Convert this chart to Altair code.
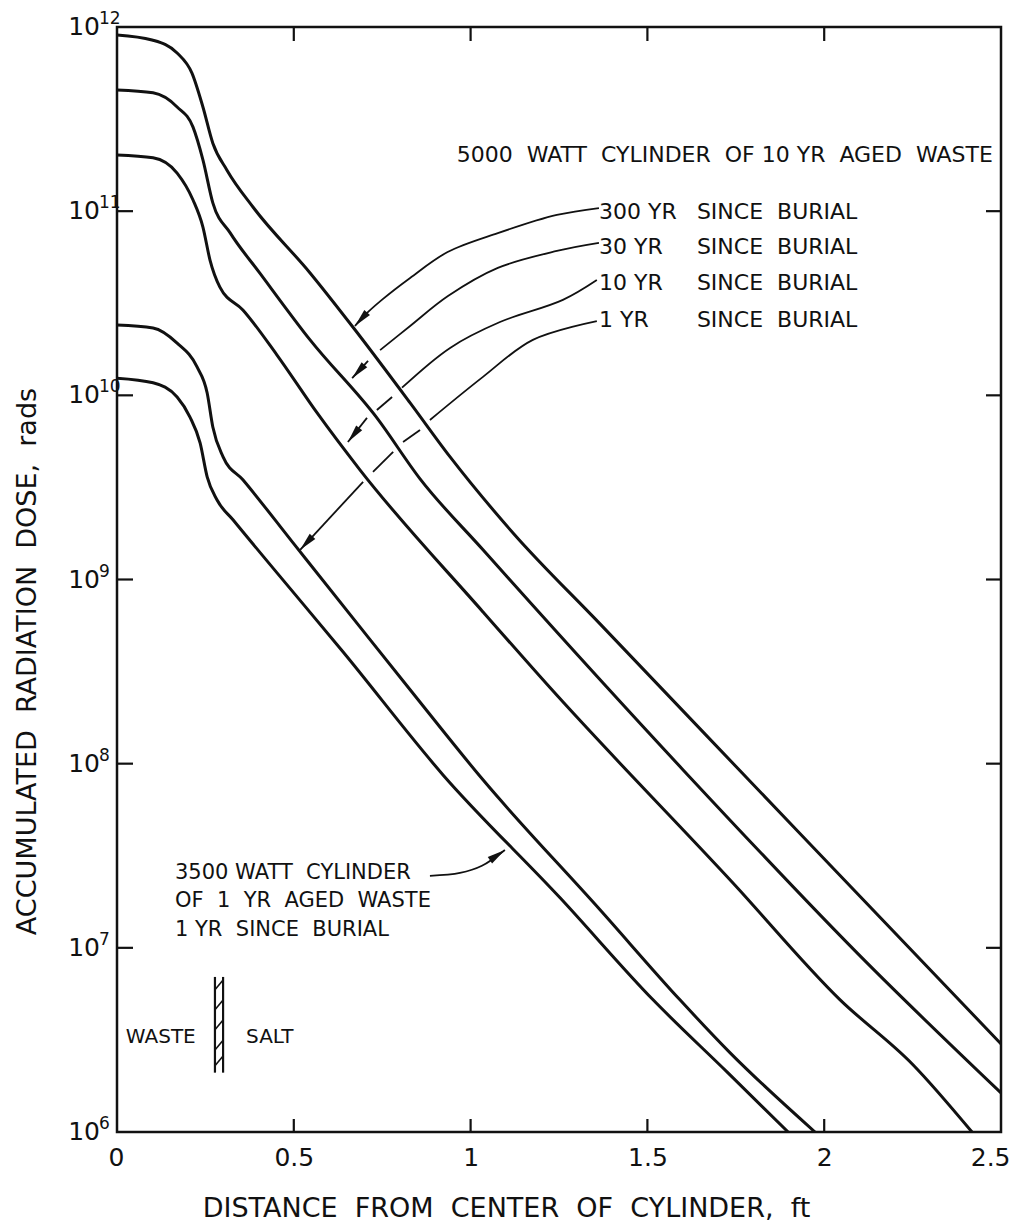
import math
import altair as alt
import pandas as pd

# ------------------------------------------------------------------ data
W, H = 884, 1105
X_DOMAIN = [0.0, 2.5]
Y_DOMAIN = [1e6, 1e12]

# 5000 W cylinder of 10 yr aged waste, 300 yr since burial
x_300yr = [0.0, 0.099, 0.170, 0.212, 0.243, 0.271, 0.311, 0.385, 0.546, 0.667,
           0.829, 0.942, 1.120, 1.366, 1.932, 2.5]
dose_300yr = [9.06e11, 8.50e11, 7.23e11, 5.62e11, 3.68e11, 2.34e11, 1.67e11, 1.05e11,
              4.62e10, 2.35e10, 9.10e9, 4.63e9, 1.79e9, 5.74e8, 4.16e7, 3.01e6]
# 30 yr since burial
x_30yr = [0.0, 0.102, 0.170, 0.215, 0.243, 0.271, 0.320, 0.404, 0.546, 0.735, 0.857,
          1.035, 1.601, 2.121, 2.5]
dose_30yr = [4.55e11, 4.39e11, 3.68e11, 2.86e11, 1.90e11, 1.11e11, 7.62e10, 4.61e10,
             2.00e10, 7.54e9, 3.52e9, 1.45e9, 9.25e7, 8.28e6, 1.63e6]
# 10 yr since burial
x_10yr = [0.0, 0.102, 0.170, 0.215, 0.243, 0.263, 0.291, 0.356, 0.452, 0.566, 0.687,
          1.035, 1.225, 1.742, 2.045, 2.251, 2.418]
dose_10yr = [2.02e11, 1.95e11, 1.61e11, 1.15e11, 8.20e10, 5.43e10, 3.87e10, 2.91e10,
             1.66e10, 8.02e9, 3.94e9, 6.67e8, 2.58e8, 2.25e7, 5.22e6, 2.32e6, 1.0e6]
# 1 yr since burial
x_1yr = [0.0, 0.102, 0.170, 0.226, 0.255, 0.271, 0.30, 0.356, 0.498, 0.687, 0.829,
         1.035, 1.366, 1.592, 1.734, 1.974]
dose_1yr = [2.41e10, 2.32e10, 1.92e10, 1.43e10, 1.03e10, 6.73e9, 4.63e9, 3.48e9,
            1.58e9, 5.53e8, 2.52e8, 8.17e7, 1.61e7, 5.22e6, 2.69e6, 1.0e6]
# 3500 W cylinder of 1 yr aged waste, 1 yr since burial
x_3500w = [0.0, 0.102, 0.170, 0.206, 0.235, 0.255, 0.283, 0.328, 0.452, 0.639,
           0.922, 1.253, 1.516, 1.725, 1.898]
dose_3500w = [1.24e10, 1.17e10, 9.79e9, 7.64e9, 5.52e9, 3.61e9, 2.70e9, 2.11e9,
              1.09e9, 4.05e8, 8.69e7, 1.87e7, 5.22e6, 2.12e6, 1.0e6]

curve_names = ["300 YR", "30 YR", "10 YR", "1 YR", "3500 W"]
curve_x = [x_300yr, x_30yr, x_10yr, x_1yr, x_3500w]
curve_y = [dose_300yr, dose_30yr, dose_10yr, dose_1yr, dose_3500w]

# leader lines (label -> arrow tip), split where they cross the curves
leader_300 = [[(1.363, 1.04e11), (1.244, 9.54e10), (1.077, 7.60e10), (0.935, 6.0e10),
               (0.829, 4.34e10), (0.749, 3.30e10), (0.701, 2.73e10), (0.673, 2.38e10)]]
leader_30 = [[(1.363, 6.72e10), (1.244, 6.08e10), (1.077, 4.92e10), (0.936, 3.46e10),
              (0.829, 2.38e10), (0.744, 1.76e10)],
             [(0.710, 1.54e10), (0.665, 1.24e10)]]
leader_10 = [[(1.357, 4.23e10), (1.261, 3.30e10), (1.083, 2.50e10), (0.942, 1.81e10),
              (0.806, 1.10e10)],
             [(0.778, 9.80e9), (0.735, 8.33e9)],
             [(0.707, 7.54e9), (0.653, 5.58e9)]]
leader_1 = [[(1.357, 2.53e10), (1.176, 2.00e10), (1.035, 1.26e10), (0.885, 7.35e9)],
            [(0.857, 6.49e9), (0.809, 5.58e9)],
            [(0.781, 4.93e9), (0.724, 3.84e9)],
            [(0.696, 3.39e9), (0.518, 1.45e9)]]
leader_3500 = [[(0.885, 2.46e7), (0.970, 2.55e7), (1.032, 2.79e7), (1.097, 3.40e7)]]
leaders = [leader_300, leader_30, leader_10, leader_1, leader_3500]

NB = "\u00a0"
# texts
title_5000 = NB.join(["5000", "", "WATT", "", "CYLINDER", "", "OF", "10", "YR", "",
                      "AGED", "", "WASTE"])
burial_years = ["300 YR", "30 YR", "10 YR", "1 YR"]
burial_rest = "SINCE" + NB + NB + "BURIAL"
burial_label_y = [9.91e10, 6.39e10, 4.07e10, 2.56e10]
burial_label_x = 1.363
burial_rest_x = 1.640
lines_3500 = ["3500" + NB + "WATT" + NB + NB + "CYLINDER",
              "OF" + NB + NB + "1" + NB + NB + "YR" + NB + NB + "AGED" + NB + NB + "WASTE",
              "1" + NB + "YR" + NB + NB + "SINCE" + NB + NB + "BURIAL"]
lines_3500_y = [2.55e7, 1.80e7, 1.25e7]
lines_3500_x = 0.164

# waste / salt boundary symbol
wall_x = [0.277, 0.300]
wall_y = [2.1e6, 6.95e6]
hatch_y = [5.92e6, 4.61e6, 3.59e6, 2.79e6, 2.29e6]
waste_label = ("WASTE", 0.025, 3.29e6)
salt_label = ("SALT", 0.365, 3.29e6)

# axes
y_tick_values = [1e6, 1e7, 1e8, 1e9, 1e10, 1e11, 1e12]
y_tick_exps = ["6", "7", "8", "9", "10", "11", "12"]
x_tick_values = [0, 0.5, 1, 1.5, 2, 2.5]
x_title = NB.join(["DISTANCE", "", "FROM", "", "CENTER", "", "OF", "", "CYLINDER,", "", "ft"])
y_title = NB.join(["ACCUMULATED", "", "RADIATION", "", "DOSE,", "", "rads"])

FONT = "DejaVu Sans"
INK = "#111111"

# ------------------------------------------------------------------ frames
rows = []
for name, xs_, ys_ in zip(curve_names, curve_x, curve_y):
    for xv, yv in zip(xs_, ys_):
        rows.append({"curve": name, "x": xv, "dose": yv})
curves_df = pd.DataFrame(rows)


def px(xv):
    return xv / X_DOMAIN[1] * W


def py(v):
    return (12 - math.log10(v)) / 6 * H


lrows, arrows = [], []
for li, leader in enumerate(leaders):
    for si, seg in enumerate(leader):
        for pi, (xv, yv) in enumerate(seg):
            lrows.append({"key": f"{li}-{si}", "i": pi, "x": xv, "dose": yv})
    (x0, y0), (x1, y1) = leader[-1][-2], leader[-1][-1]
    dx, dy = px(x1) - px(x0), py(y1) - py(y0)
    ang = math.degrees(math.atan2(dx, -dy)) % 360
    arrows.append({"x": x1, "dose": y1, "ang": ang})
leader_df = pd.DataFrame(lrows)
arrow_df = pd.DataFrame(arrows)

xs = alt.Scale(domain=X_DOMAIN, nice=False, zero=False)
ys = alt.Scale(type="log", domain=Y_DOMAIN, nice=False)

x_axis = alt.Axis(
    values=x_tick_values, format="~g", labelFontSize=25, labelPadding=13,
    labelFlush=True, labelFlushOffset=9, labelColor=INK, labelFont=FONT,
    title=x_title, titleFont=FONT,
    titleFontSize=27, titleFontWeight="normal", titleColor=INK,
    titleX=389, titleY=76, titleAlign="center", titleBaseline="middle")
y_axis = alt.Axis(
    values=y_tick_values, labels=False, title=y_title, titleFont=FONT,
    titleFontSize=27, titleFontWeight="normal", titleColor=INK,
    titleX=-90, titleY=634, titleAngle=270, titleAlign="center",
    titleBaseline="middle")

X = alt.X("x:Q", scale=xs, axis=x_axis)
Y = alt.Y("dose:Q", scale=ys, axis=y_axis)

curves = alt.Chart(curves_df).mark_line(
    color=INK, strokeWidth=3, interpolate="monotone", clip=True
).encode(x=X, y=Y, detail="curve:N")

leader_lines = alt.Chart(leader_df).mark_line(
    color=INK, strokeWidth=1.8, interpolate="catmull-rom"
).encode(x=X, y=Y, detail="key:N", order="i:Q")

arrow_heads = alt.Chart(arrow_df).mark_point(
    shape="M0,0 L0.42,2 L-0.42,2 Z", filled=True, color=INK, size=330, opacity=1
).encode(x=X, y=Y, angle=alt.Angle("ang:Q", scale=None))

# y tick labels: 10 with superscript exponent
ylab_df = pd.DataFrame({"dose": y_tick_values, "exp": y_tick_exps,
                        "base": ["10"] * len(y_tick_values)})
ylab_base = alt.Chart(ylab_df).mark_text(
    align="right", baseline="middle", font=FONT, fontSize=25, color=INK
).encode(x=alt.value(-17), y=Y, text="base:N")
ylab_exp = alt.Chart(ylab_df).mark_text(
    align="left", baseline="bottom", font=FONT, fontSize=17, color=INK, dx=-1, dy=1
).encode(x=alt.value(-17), y=Y, text="exp:N")

# inward ticks
ytick_df = pd.DataFrame({"dose": y_tick_values[1:-1]})
xtick_df = pd.DataFrame({"x": x_tick_values[1:-1]})
tick_style = dict(color=INK, strokeWidth=2.2)
ticks_left = alt.Chart(ytick_df).mark_rule(**tick_style).encode(
    x=alt.value(0), x2=alt.value(16), y=Y)
ticks_right = alt.Chart(ytick_df).mark_rule(**tick_style).encode(
    x=alt.value(W - 15), x2=alt.value(W), y=Y)
ticks_bottom = alt.Chart(xtick_df).mark_rule(**tick_style).encode(
    x=X, y=alt.value(H - 13), y2=alt.value(H))
ticks_top = alt.Chart(xtick_df).mark_rule(**tick_style).encode(
    x=X, y=alt.value(0), y2=alt.value(14))

# annotation texts
txt = dict(baseline="middle", font=FONT, color=INK)
t5000 = alt.Chart(pd.DataFrame({"x": [2.477], "dose": [2.02e11], "t": [title_5000]})).mark_text(
    align="right", fontSize=22, **txt
).encode(x=X, y=Y, text="t:N")
tyears = alt.Chart(pd.DataFrame({"x": [burial_label_x] * 4, "dose": burial_label_y,
                                 "t": burial_years})).mark_text(
    align="left", fontSize=22, **txt
).encode(x=X, y=Y, text="t:N")
trest = alt.Chart(pd.DataFrame({"x": [burial_rest_x] * 4, "dose": burial_label_y,
                                "t": [burial_rest] * 4})).mark_text(
    align="left", fontSize=22, **txt
).encode(x=X, y=Y, text="t:N")
t3500 = alt.Chart(pd.DataFrame({"x": [lines_3500_x] * 3, "dose": lines_3500_y,
                                "t": lines_3500})).mark_text(
    align="left", fontSize=21, **txt
).encode(x=X, y=Y, text="t:N")
tws = alt.Chart(pd.DataFrame({"x": [waste_label[1], salt_label[1]],
                              "dose": [waste_label[2], salt_label[2]],
                              "t": [waste_label[0], salt_label[0]]})).mark_text(
    align="left", fontSize=20, **txt
).encode(x=X, y=Y, text="t:N")

# waste/salt wall
wall_df = pd.DataFrame({"x": wall_x, "dose": [wall_y[0]] * 2, "dose2": [wall_y[1]] * 2})
wall = alt.Chart(wall_df).mark_rule(color=INK, strokeWidth=2.2).encode(
    x=X, y=Y, y2="dose2:Q")
hatch_df = pd.DataFrame({"x": [wall_x[0]] * len(hatch_y), "x2": [wall_x[1]] * len(hatch_y),
                         "dose": hatch_y, "dose2": [v * 1.13 for v in hatch_y]})
hatch = alt.Chart(hatch_df).mark_rule(color=INK, strokeWidth=1.6).encode(
    x=X, x2="x2:Q", y=Y, y2="dose2:Q")

chart = alt.layer(
    curves, leader_lines, arrow_heads, ylab_base, ylab_exp,
    ticks_left, ticks_right, ticks_bottom, ticks_top,
    t5000, tyears, trest, t3500, tws, wall, hatch,
).properties(
    width=W, height=H,
    autosize=alt.AutoSizeParams(type="none"),
    padding={"left": 117, "top": 27, "right": 16, "bottom": 97},
    background="white",
).configure_view(
    stroke=INK, strokeWidth=2.5
).configure_axis(
    grid=False, domain=False, ticks=False
)

chart.save("out.html", embed_options={"renderer": "svg", "actions": False})
